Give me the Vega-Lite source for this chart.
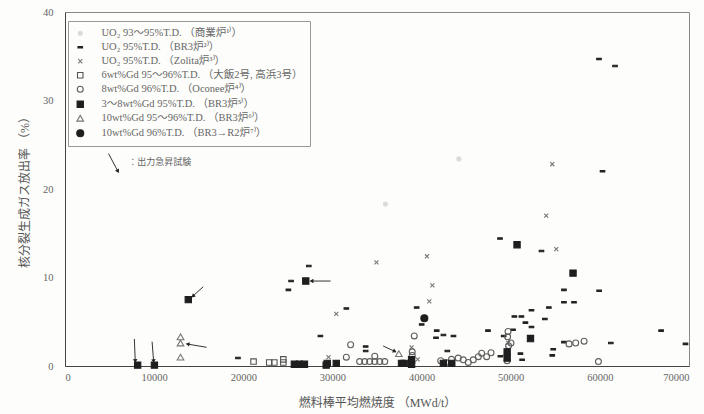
{
  "$schema": "https://vega.github.io/schema/vega-lite/v6.json",
  "width": 624,
  "height": 354,
  "autosize": {"type": "none"},
  "padding": {"left": 65, "top": 12, "right": 15, "bottom": 48},
  "background": "#fdfdfb",
  "config": {
    "font": "Liberation Serif, Noto Sans CJK JP",
    "view": {"stroke": "#888", "strokeWidth": 1},
    "axis": {"grid": false, "ticks": false, "domainColor": "#444", "labelColor": "#666", "titleColor": "#555", "labelFontSize": 10.5, "titleFontSize": 12, "titleFontWeight": "normal", "labelFont": "Liberation Serif", "titleFont": "Liberation Serif, Noto Sans CJK JP"},
    "legend": {"labelFontSize": 10.5, "labelColor": "#666", "labelFont": "Liberation Serif, Noto Sans CJK JP", "rowPadding": 3, "symbolStrokeWidth": 1.1, "labelOffset": 16, "labelLimit": 340}
  },
  "datasets": {
    "pts": [
      {"s": "A", "x": 35950, "y": 18.3}, {"s": "A", "x": 44180, "y": 23.4},
      {"s": "B", "x": 59900, "y": 34.7}, {"s": "B", "x": 61700, "y": 33.9}, {"s": "B", "x": 60300, "y": 22.0}, {"s": "B", "x": 48800, "y": 14.4},
      {"s": "B", "x": 53450, "y": 13.0}, {"s": "B", "x": 27350, "y": 11.3}, {"s": "B", "x": 25360, "y": 9.6}, {"s": "B", "x": 25060, "y": 8.6},
      {"s": "B", "x": 31560, "y": 6.5}, {"s": "B", "x": 28650, "y": 3.4}, {"s": "B", "x": 19400, "y": 0.9}, {"s": "B", "x": 33730, "y": 2.2},
      {"s": "B", "x": 33730, "y": 1.7}, {"s": "B", "x": 39450, "y": 6.6}, {"s": "B", "x": 40010, "y": 4.7}, {"s": "B", "x": 55970, "y": 8.6},
      {"s": "B", "x": 59920, "y": 8.5}, {"s": "B", "x": 55970, "y": 7.2}, {"s": "B", "x": 57100, "y": 7.2}, {"s": "B", "x": 54280, "y": 6.6},
      {"s": "B", "x": 52330, "y": 6.3}, {"s": "B", "x": 50410, "y": 5.6}, {"s": "B", "x": 51200, "y": 5.6}, {"s": "B", "x": 53830, "y": 5.3},
      {"s": "B", "x": 51650, "y": 4.9}, {"s": "B", "x": 50260, "y": 4.1}, {"s": "B", "x": 52330, "y": 4.4}, {"s": "B", "x": 41700, "y": 4.0},
      {"s": "B", "x": 42450, "y": 3.5}, {"s": "B", "x": 43580, "y": 3.4}, {"s": "B", "x": 41620, "y": 3.2}, {"s": "B", "x": 47450, "y": 4.0},
      {"s": "B", "x": 49210, "y": 3.4}, {"s": "B", "x": 42890, "y": 1.7}, {"s": "B", "x": 48840, "y": 1.1}, {"s": "B", "x": 51090, "y": 1.4},
      {"s": "B", "x": 51280, "y": 0.7}, {"s": "B", "x": 54770, "y": 1.9}, {"s": "B", "x": 54660, "y": 1.2}, {"s": "B", "x": 55970, "y": 2.7},
      {"s": "B", "x": 61230, "y": 2.6}, {"s": "B", "x": 66870, "y": 4.0}, {"s": "B", "x": 69610, "y": 2.5},
      {"s": "C", "x": 53980, "y": 17.0}, {"s": "C", "x": 55110, "y": 13.2}, {"s": "C", "x": 54660, "y": 22.8}, {"s": "C", "x": 40600, "y": 12.4},
      {"s": "C", "x": 41210, "y": 9.1}, {"s": "C", "x": 40870, "y": 7.3}, {"s": "C", "x": 34940, "y": 11.7}, {"s": "C", "x": 30430, "y": 5.9},
      {"s": "C", "x": 38880, "y": 2.1}, {"s": "C", "x": 39560, "y": 0.75}, {"s": "C", "x": 29560, "y": 1.0}, {"s": "C", "x": 49720, "y": 2.6},
      {"s": "D", "x": 21150, "y": 0.5}, {"s": "D", "x": 22910, "y": 0.4}, {"s": "D", "x": 23480, "y": 0.4}, {"s": "D", "x": 24490, "y": 0.75},
      {"s": "D", "x": 24490, "y": 0.4},
      {"s": "E", "x": 39180, "y": 3.4}, {"s": "E", "x": 32040, "y": 2.4}, {"s": "E", "x": 31560, "y": 1.0}, {"s": "E", "x": 33050, "y": 0.5},
      {"s": "E", "x": 33620, "y": 0.5}, {"s": "E", "x": 34180, "y": 0.5}, {"s": "E", "x": 34750, "y": 0.5}, {"s": "E", "x": 35310, "y": 0.5},
      {"s": "E", "x": 35870, "y": 0.5}, {"s": "E", "x": 34750, "y": 1.1}, {"s": "E", "x": 38950, "y": 1.6}, {"s": "E", "x": 38950, "y": 1.2},
      {"s": "E", "x": 49700, "y": 3.9}, {"s": "E", "x": 49650, "y": 3.3}, {"s": "E", "x": 50030, "y": 2.6}, {"s": "E", "x": 49760, "y": 2.3},
      {"s": "E", "x": 49600, "y": 0.6}, {"s": "E", "x": 56540, "y": 2.5}, {"s": "E", "x": 57290, "y": 2.6}, {"s": "E", "x": 58230, "y": 2.8},
      {"s": "E", "x": 59840, "y": 0.5}, {"s": "E", "x": 42150, "y": 0.6}, {"s": "E", "x": 42720, "y": 0.4}, {"s": "E", "x": 43360, "y": 0.75},
      {"s": "E", "x": 44110, "y": 0.9}, {"s": "E", "x": 44680, "y": 0.7}, {"s": "E", "x": 45240, "y": 0.4}, {"s": "E", "x": 45800, "y": 0.7},
      {"s": "E", "x": 46370, "y": 1.05}, {"s": "E", "x": 46740, "y": 1.45}, {"s": "E", "x": 47300, "y": 1.05}, {"s": "E", "x": 47790, "y": 1.5},
      {"s": "F", "x": 13830, "y": 7.5}, {"s": "F", "x": 8150, "y": 0.1}, {"s": "F", "x": 10030, "y": 0.1}, {"s": "F", "x": 27010, "y": 9.6},
      {"s": "F", "x": 25730, "y": 0.2}, {"s": "F", "x": 26290, "y": 0.2}, {"s": "F", "x": 26860, "y": 0.2}, {"s": "F", "x": 29420, "y": 0.3},
      {"s": "F", "x": 29300, "y": 0.1}, {"s": "F", "x": 30430, "y": 0.3}, {"s": "F", "x": 37750, "y": 0.3}, {"s": "F", "x": 38050, "y": 0.3},
      {"s": "F", "x": 38880, "y": 0.2}, {"s": "F", "x": 38880, "y": 0.7}, {"s": "F", "x": 50710, "y": 13.7}, {"s": "F", "x": 56990, "y": 10.5},
      {"s": "F", "x": 52220, "y": 3.1}, {"s": "F", "x": 49600, "y": 1.6}, {"s": "F", "x": 49600, "y": 0.9}, {"s": "F", "x": 42450, "y": 0.3},
      {"s": "F", "x": 43390, "y": 0.3},
      {"s": "G", "x": 12960, "y": 3.3}, {"s": "G", "x": 12960, "y": 2.6}, {"s": "G", "x": 12960, "y": 1.0}, {"s": "G", "x": 37450, "y": 1.4},
      {"s": "H", "x": 40310, "y": 5.4}
    ],
    "arrows": [
      {"x": 15510, "y": 8.96, "x2": 14350, "y2": 7.9},
      {"x": 15890, "y": 2.11, "x2": 13750, "y2": 2.48},
      {"x": 7780, "y": 3.05, "x2": 7880, "y2": 0.55},
      {"x": 9770, "y": 2.75, "x2": 9940, "y2": 0.55},
      {"x": 29790, "y": 9.6, "x2": 27650, "y2": 9.6},
      {"x": 35690, "y": 2.26, "x2": 37000, "y2": 1.65},
      {"x": 4880, "y": 24.0, "x2": 5940, "y2": 22.0}
    ],
    "notes": [
      {"x": 7100, "y": 23.1, "t": "：出力急昇試験"}
    ]
  },
  "layer": [
    {
      "data": {"name": "pts"},
      "mark": {"type": "point", "strokeWidth": 1.1, "opacity": 1},
      "encoding": {
        "x": {"field": "x", "type": "quantitative", "scale": {"domain": [0, 70000], "nice": false},
              "axis": {"values": [0, 10000, 20000, 30000, 40000, 50000, 60000, 70000], "format": "d", "title": "燃料棒平均燃焼度 （MWd/t）", "labelPadding": 6, "titlePadding": 15}},
        "y": {"field": "y", "type": "quantitative", "scale": {"domain": [0, 40], "nice": false},
              "axis": {"values": [0, 10, 20, 30, 40], "title": "核分裂生成ガス放出率 （%）", "labelPadding": 12, "titlePadding": 11}},
        "shape": {"field": "s", "type": "nominal",
                  "scale": {"domain": ["A", "B", "C", "D", "E", "F", "G", "H"],
                            "range": ["circle", "M-1,-0.32H1V0.32H-1Z", "M-0.8,-0.8L0.8,0.8M-0.8,0.8L0.8,-0.8", "square", "circle", "square", "triangle-up", "circle"]},
                  "legend": {"title": null, "orient": "none", "legendX": 3, "legendY": 9, "padding": 7, "strokeColor": "#999", "fillColor": "#fdfdfb",
                             "labelExpr": "{'A': 'UO₂ 93～95%T.D. （商業炉¹⁾）', 'B': 'UO₂ 95%T.D. （BR3炉²⁾）', 'C': 'UO₂ 95%T.D. （Zolita炉³⁾）', 'D': '6wt%Gd 95～96%T.D. （大飯2号, 高浜3号）', 'E': '8wt%Gd 96%T.D. （Oconee炉⁴⁾）', 'F': '3～8wt%Gd 95%T.D. （BR3炉⁵⁾）', 'G': '10wt%Gd 95～96%T.D. （BR3炉⁶⁾）', 'H': '10wt%Gd 96%T.D. （BR3→R2炉⁷⁾）'}[datum.label]"}},
        "fill": {"field": "s", "type": "nominal",
                 "scale": {"domain": ["A", "B", "C", "D", "E", "F", "G", "H"],
                           "range": ["#d8d8d8", "#222222", "transparent", "transparent", "transparent", "#1e1e1e", "transparent", "#1e1e1e"]},
                 "legend": {"title": null, "orient": "none", "legendX": 3, "legendY": 9, "padding": 7, "strokeColor": "#999", "fillColor": "#fdfdfb",
                             "labelExpr": "{'A': 'UO₂ 93～95%T.D. （商業炉¹⁾）', 'B': 'UO₂ 95%T.D. （BR3炉²⁾）', 'C': 'UO₂ 95%T.D. （Zolita炉³⁾）', 'D': '6wt%Gd 95～96%T.D. （大飯2号, 高浜3号）', 'E': '8wt%Gd 96%T.D. （Oconee炉⁴⁾）', 'F': '3～8wt%Gd 95%T.D. （BR3炉⁵⁾）', 'G': '10wt%Gd 95～96%T.D. （BR3炉⁶⁾）', 'H': '10wt%Gd 96%T.D. （BR3→R2炉⁷⁾）'}[datum.label]"}},
        "stroke": {"field": "s", "type": "nominal",
                   "scale": {"domain": ["A", "B", "C", "D", "E", "F", "G", "H"],
                             "range": ["#dcdcdc", "#222222", "#777777", "#555555", "#5e5e5e", "#1e1e1e", "#777777", "#1e1e1e"]},
                   "legend": {"title": null, "orient": "none", "legendX": 3, "legendY": 9, "padding": 7, "strokeColor": "#999", "fillColor": "#fdfdfb",
                             "labelExpr": "{'A': 'UO₂ 93～95%T.D. （商業炉¹⁾）', 'B': 'UO₂ 95%T.D. （BR3炉²⁾）', 'C': 'UO₂ 95%T.D. （Zolita炉³⁾）', 'D': '6wt%Gd 95～96%T.D. （大飯2号, 高浜3号）', 'E': '8wt%Gd 96%T.D. （Oconee炉⁴⁾）', 'F': '3～8wt%Gd 95%T.D. （BR3炉⁵⁾）', 'G': '10wt%Gd 95～96%T.D. （BR3炉⁶⁾）', 'H': '10wt%Gd 96%T.D. （BR3→R2炉⁷⁾）'}[datum.label]"}},
        "size": {"field": "s", "type": "nominal",
                 "scale": {"domain": ["A", "B", "C", "D", "E", "F", "G", "H"], "range": [16, 49, 36, 42, 49, 36, 42, 49]},
                 "legend": {"title": null, "orient": "none", "legendX": 3, "legendY": 9, "padding": 7, "strokeColor": "#999", "fillColor": "#fdfdfb",
                             "labelExpr": "{'A': 'UO₂ 93～95%T.D. （商業炉¹⁾）', 'B': 'UO₂ 95%T.D. （BR3炉²⁾）', 'C': 'UO₂ 95%T.D. （Zolita炉³⁾）', 'D': '6wt%Gd 95～96%T.D. （大飯2号, 高浜3号）', 'E': '8wt%Gd 96%T.D. （Oconee炉⁴⁾）', 'F': '3～8wt%Gd 95%T.D. （BR3炉⁵⁾）', 'G': '10wt%Gd 95～96%T.D. （BR3炉⁶⁾）', 'H': '10wt%Gd 96%T.D. （BR3→R2炉⁷⁾）'}[datum.label]"}}
      }
    },
    {
      "data": {"name": "arrows"},
      "mark": {"type": "rule", "color": "#333", "strokeWidth": 1},
      "encoding": {
        "x": {"field": "x", "type": "quantitative"},
        "y": {"field": "y", "type": "quantitative"},
        "x2": {"field": "x2"},
        "y2": {"field": "y2"}
      }
    },
    {
      "data": {"name": "arrows"},
      "transform": [{"calculate": "atan2((datum.x2 - datum.x) * 0.008914, (datum.y2 - datum.y) * 8.85) * 180 / PI", "as": "ang"}],
      "mark": {"type": "point", "shape": "triangle-up", "filled": true, "color": "#222", "size": 20, "opacity": 1},
      "encoding": {
        "x": {"field": "x2", "type": "quantitative"},
        "y": {"field": "y2", "type": "quantitative"},
        "angle": {"field": "ang", "type": "quantitative", "scale": null}
      }
    },
    {
      "data": {"name": "notes"},
      "mark": {"type": "text", "align": "left", "baseline": "middle", "fontSize": 9, "color": "#666", "font": "Noto Sans CJK JP"},
      "encoding": {
        "x": {"field": "x", "type": "quantitative"},
        "y": {"field": "y", "type": "quantitative"},
        "text": {"field": "t"}
      }
    }
  ]
}
